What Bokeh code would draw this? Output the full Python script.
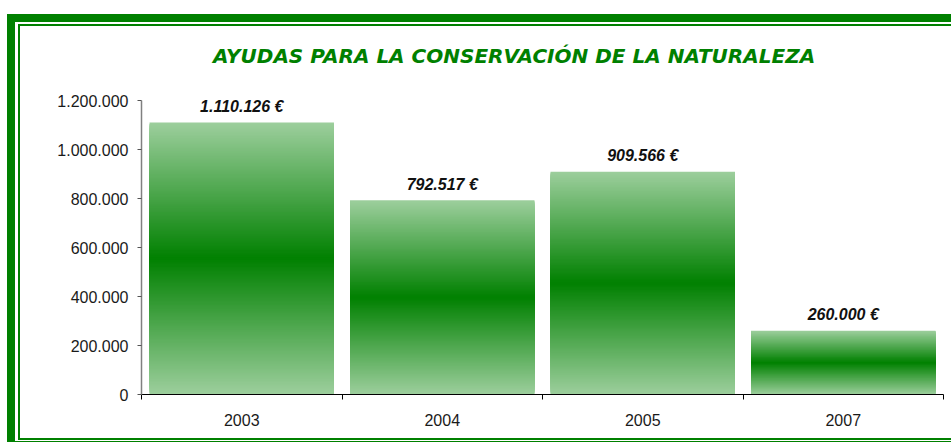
from bokeh.plotting import figure
from bokeh.models import Label, Range1d, FixedTicker, ColumnDataSource
from bokeh.embed import file_html
from bokeh.resources import INLINE
from bokeh.core.properties import value

# ---- data ----
years = ["2003", "2004", "2005", "2007"]
amounts = [1110126, 792517, 909566, 260000]
y_ticks = [0, 200000, 400000, 600000, 800000, 1000000, 1200000]
title_text = "AYUDAS PARA LA CONSERVACIÓN DE LA NATURALEZA"

# ---- style ----
GREEN = "#008000"
LIGHT = (156, 206, 156)
DARK = (0, 128, 0)
BAR_W = 0.92
N_STEPS = 100
W, H = 951, 442
AXIS_TOP_PX, AXIS_BOTTOM_PX, FRAME_TOP_PX = 100, 394, 30
Y_AXIS_MAX = y_ticks[-1]
# extend the plot frame upward so the title can live inside it; axis line bounded
Y_RANGE_END = Y_AXIS_MAX * (AXIS_BOTTOM_PX - FRAME_TOP_PX) / (AXIS_BOTTOM_PX - AXIS_TOP_PX)


def fmt(v):
    return f"{v:,}".replace(",", ".")


def mix(t):
    r = [round(DARK[k] + (LIGHT[k] - DARK[k]) * t) for k in range(3)]
    return "#%02x%02x%02x" % tuple(r)


# double green frame painted as CSS background layers behind a transparent canvas
g = "linear-gradient(#008000,#008000)"
layers = [
    ("7px 14px", "8px 428px"),     # thick left
    ("7px 14px", "944px 8px"),     # thick top
    ("18px 24px", "2px 416px"),    # thin left
    ("18px 24px", "933px 2px"),    # thin top
    ("18px 438px", "933px 2px"),   # thin bottom
    ("7px 441px", "944px 1px"),    # thick bottom (cut)
]
frame_css = {
    "background-color": "white",
    "background-image": ", ".join([g] * len(layers)),
    "background-position": ", ".join(l[0] for l in layers),
    "background-size": ", ".join(l[1] for l in layers),
    "background-repeat": "no-repeat",
}

p = figure(width=W, height=H, output_backend="svg", toolbar_location=None,
           x_range=Range1d(0, len(years)), y_range=Range1d(0, Y_RANGE_END),
           min_border_left=141, min_border_right=8, min_border_top=FRAME_TOP_PX,
           min_border_bottom=H - AXIS_BOTTOM_PX, styles=frame_css)
p.outline_line_color = None
p.xgrid.visible = False
p.ygrid.visible = False
p.background_fill_color = None
p.border_fill_color = None

# gradient bars: nested rectangles, light at the ends, dark in the middle
L, R, B, T, C = [], [], [], [], []
for i, v in enumerate(amounts):
    mid = v / 2
    for k in range(N_STEPS):
        frac = 1 - k / N_STEPS
        h = mid * frac
        L.append(i + (1 - BAR_W) / 2)
        R.append(i + 1 - (1 - BAR_W) / 2)
        B.append(mid - h)
        T.append(mid + h)
        C.append(mix(frac))
src = ColumnDataSource(dict(left=L, right=R, bottom=B, top=T, color=C))
p.quad(left="left", right="right", bottom="bottom", top="top", source=src,
       fill_color="color", line_color=None)

# value labels
lab_src = ColumnDataSource(dict(x=[i + 0.5 for i in range(len(years))], y=amounts,
                                text=[fmt(v) + " €" for v in amounts]))
p.text(x="x", y="y", text="text", source=lab_src, text_align="center",
       text_baseline="alphabetic", y_offset=-16,
       text_font=value("Liberation Sans"), text_font_style="bold italic",
       text_font_size="16px", text_color="#111111")

# y axis
ya = p.yaxis[0]
ya.bounds = (0, Y_AXIS_MAX)
ya.ticker = FixedTicker(ticks=y_ticks)
ya.major_label_overrides = {v: fmt(v) for v in y_ticks}
ya.axis_line_color = "#808080"
ya.axis_line_width = 1.5
ya.major_tick_line_color = "#555555"
ya.major_tick_out = 4
ya.major_tick_in = 0
ya.minor_tick_line_color = None
ya.major_label_standoff = 9
ya.major_label_text_font = "Liberation Sans"
ya.major_label_text_font_size = "16px"
ya.major_label_text_color = "#1a1a1a"

# x axis
xa = p.xaxis[0]
centers = [i + 0.5 for i in range(len(years))]
xa.ticker = FixedTicker(ticks=centers, minor_ticks=list(range(len(years) + 1)))
xa.major_label_overrides = {c: y for c, y in zip(centers, years)}
xa.axis_line_color = "black"
xa.axis_line_width = 1
xa.major_tick_line_color = None
xa.major_tick_out = 0
xa.major_tick_in = 0
xa.minor_tick_line_color = "black"
xa.minor_tick_out = 5
xa.minor_tick_in = 0
xa.major_label_standoff = 14
xa.major_label_text_font = "Liberation Sans"
xa.major_label_text_font_size = "16px"
xa.major_label_text_color = "#1a1a1a"

# title (screen units are relative to the plot frame, y upward)
p.add_layout(Label(x=513.5 - 141, y=AXIS_BOTTOM_PX - 55, x_units="screen", y_units="screen",
                   text=title_text, text_align="center", text_baseline="middle",
                   text_font="DejaVu Sans", text_font_style="bold italic",
                   text_font_size="20px", text_color=GREEN))

open("out.html", "w").write(file_html(p, INLINE))
